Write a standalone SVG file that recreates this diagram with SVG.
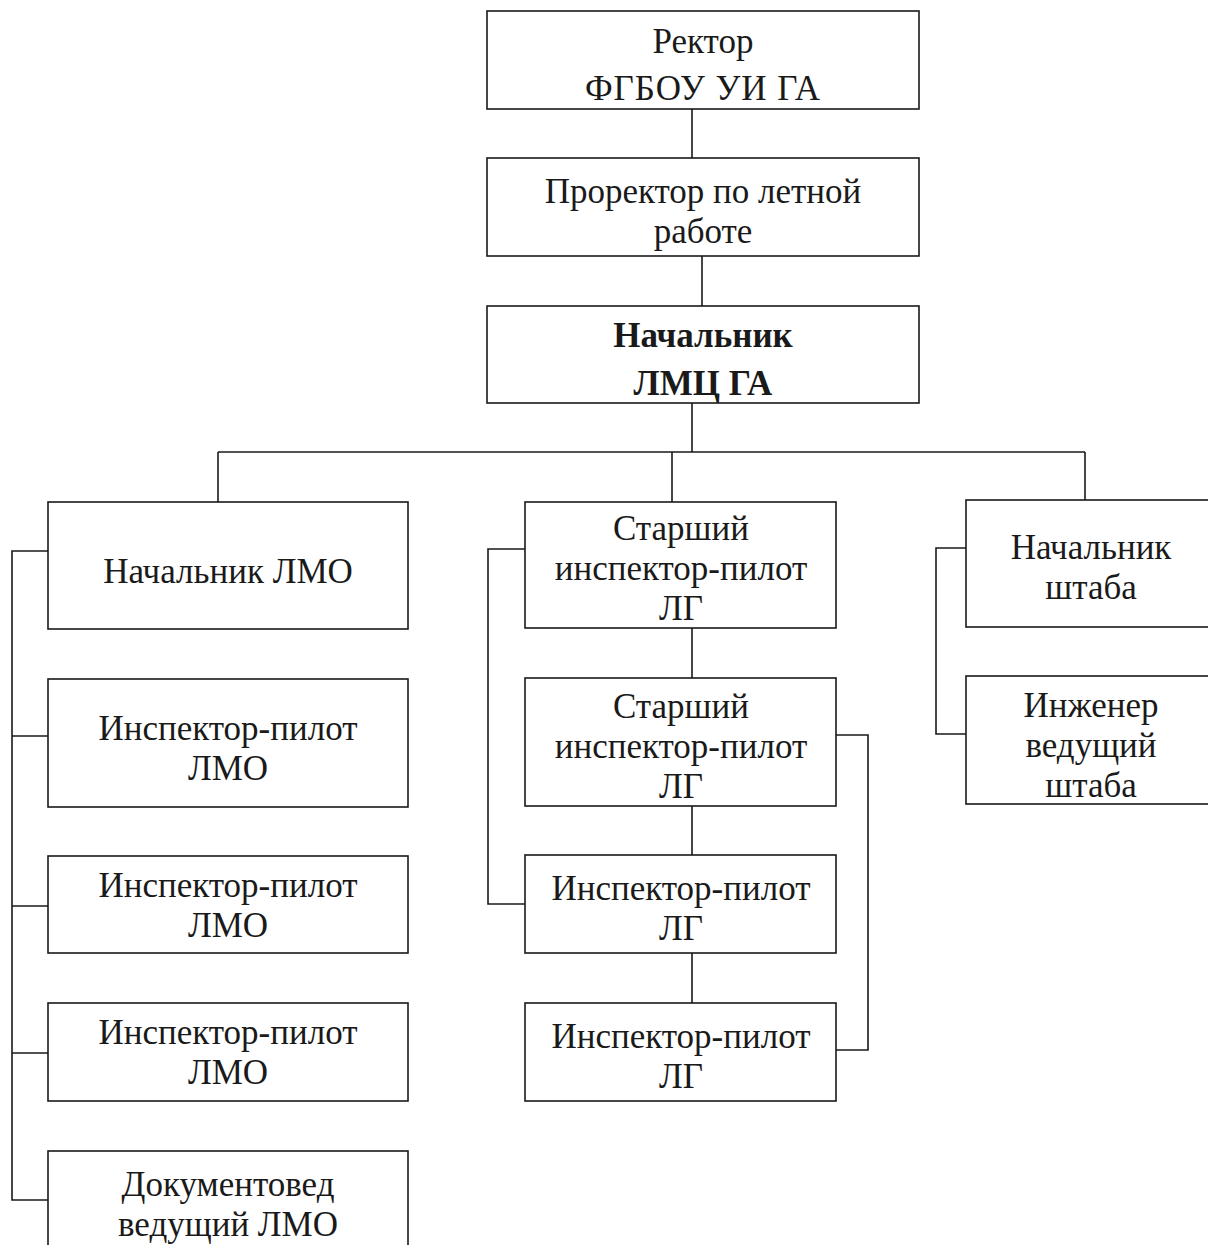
<svg xmlns="http://www.w3.org/2000/svg" width="1208" height="1245" viewBox="0 0 1208 1245">
<style>
.box{fill:#fff;stroke:#1a1a1a;stroke-width:1.6}
.ln{fill:none;stroke:#1a1a1a;stroke-width:1.6}
text{font-family:"Liberation Serif","Times New Roman",serif;font-size:35px;fill:#1a1a1a;text-anchor:middle}
.b{font-weight:bold}
</style>
<rect width="1208" height="1245" fill="#fff"/>
<g id="connectors">
<path class="ln" d="M692 109V158M702 256V306M692 403V452M218 452H1085M218 452V502M672 452V502M1085 452V500"/>
<path class="ln" d="M48 551H12V1200H48M12 736H48M12 906H48M12 1053H48"/>
<path class="ln" d="M525 549H488V904H525"/>
<path class="ln" d="M836 735H868V1050H836"/>
<path class="ln" d="M692 628V678M692 806V855M692 953V1003"/>
<path class="ln" d="M966 548H936V734H966"/>
</g>
<g id="rector"><rect class="box" x="487" y="11" width="432" height="98"/><text x="703" y="53">Ректор</text><text x="703" y="100" style="letter-spacing:1px">ФГБОУ УИ ГА</text></g>
<g id="prorector"><rect class="box" x="487" y="158" width="432" height="98"/><text x="703" y="203">Проректор по летной</text><text x="703" y="243">работе</text></g>
<g id="head-lmc"><rect class="box" x="487" y="306" width="432" height="97"/><text class="b" x="703" y="347">Начальник</text><text class="b" x="703" y="395">ЛМЦ ГА</text></g>
<g id="head-lmo"><rect class="box" x="48" y="502" width="360" height="127"/><text x="228" y="583">Начальник ЛМО</text></g>
<g id="insp-lmo-1"><rect class="box" x="48" y="679" width="360" height="128"/><text x="228" y="740">Инспектор-пилот</text><text x="228" y="780">ЛМО</text></g>
<g id="insp-lmo-2"><rect class="box" x="48" y="856" width="360" height="97"/><text x="228" y="897">Инспектор-пилот</text><text x="228" y="937">ЛМО</text></g>
<g id="insp-lmo-3"><rect class="box" x="48" y="1003" width="360" height="98"/><text x="228" y="1044">Инспектор-пилот</text><text x="228" y="1084">ЛМО</text></g>
<g id="doc-lmo"><rect class="box" x="48" y="1151" width="360" height="110"/><text x="228" y="1196">Документовед</text><text x="228" y="1236">ведущий ЛМО</text></g>
<g id="senior-lg-1"><rect class="box" x="525" y="502" width="311" height="126"/><text x="681" y="540">Старший</text><text x="681" y="580">инспектор-пилот</text><text x="681" y="620">ЛГ</text></g>
<g id="senior-lg-2"><rect class="box" x="525" y="678" width="311" height="128"/><text x="681" y="718">Старший</text><text x="681" y="758">инспектор-пилот</text><text x="681" y="798">ЛГ</text></g>
<g id="insp-lg-1"><rect class="box" x="525" y="855" width="311" height="98"/><text x="681" y="900">Инспектор-пилот</text><text x="681" y="940">ЛГ</text></g>
<g id="insp-lg-2"><rect class="box" x="525" y="1003" width="311" height="98"/><text x="681" y="1048">Инспектор-пилот</text><text x="681" y="1088">ЛГ</text></g>
<g id="head-staff"><rect class="box" x="966" y="500" width="260" height="127"/><text x="1091" y="559">Начальник</text><text x="1091" y="599">штаба</text></g>
<g id="eng-staff"><rect class="box" x="966" y="676" width="260" height="128"/><text x="1091" y="717">Инженер</text><text x="1091" y="757">ведущий</text><text x="1091" y="797">штаба</text></g>
</svg>
